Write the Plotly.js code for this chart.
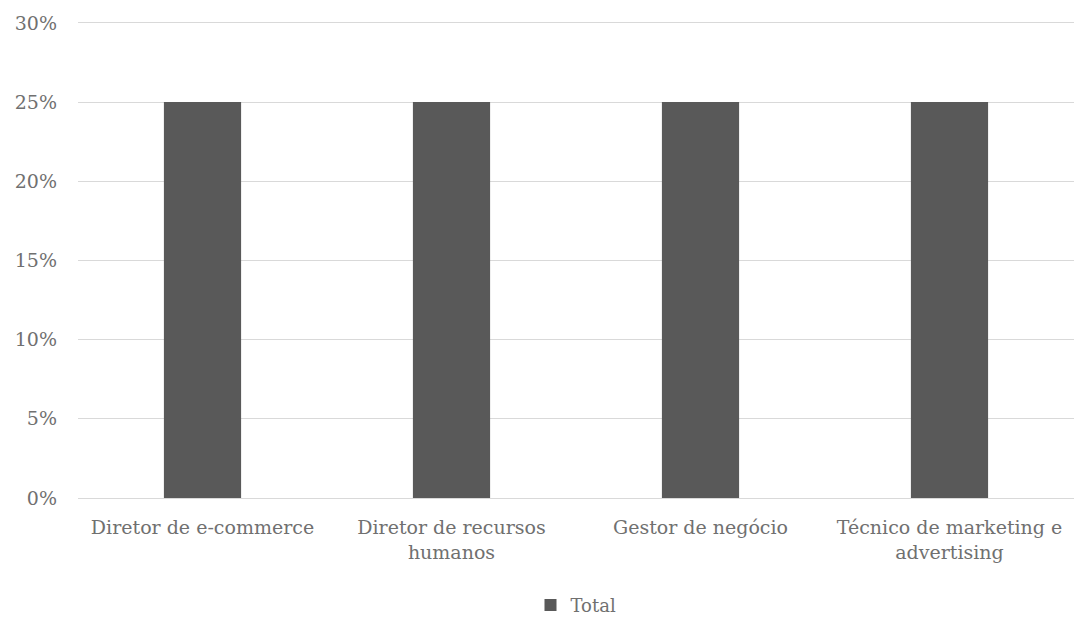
<!DOCTYPE html>
<html>
<head>
<meta charset="utf-8">
<script src="https://cdn.plot.ly/plotly-3.0.1.min.js"></script>
<style>html,body{margin:0;padding:0;background:#fff;}#chart{width:1077px;height:619px;}</style>
</head>
<body>
<div id="chart"></div>
<script>
const categories = ["Diretor de e-commerce", "Diretor de recursos<br>humanos", "Gestor de negócio", "Técnico de marketing e<br>advertising"];
const totalValues = [0.25, 0.25, 0.25, 0.25];
const yTickVals = [0, 0.05, 0.10, 0.15, 0.20, 0.25, 0.30];
const yTickText = ["0%", "5%", "10%", "15%", "20%", "25%", "30%"];
const seriesName = "Total";

const trace = {
  type: "bar",
  x: categories,
  y: totalValues,
  name: seriesName,
  marker: {color: "#595959"},
  hoverinfo: "none"
};

const layout = {
  width: 1077,
  height: 619,
  margin: {l: 78, r: 3, t: 15, b: 121},
  paper_bgcolor: "#ffffff",
  plot_bgcolor: "#ffffff",
  font: {family: "'DejaVu Serif', 'Liberation Serif', serif", color: "#707070", size: 19},
  bargap: 0.69,
  showlegend: true,
  legend: {
    orientation: "h",
    x: 0.5, xanchor: "center",
    yref: "container",
    y: 0.022, yanchor: "middle",
    font: {size: 18, color: "#707070"},
    itemwidth: 30
  },
  xaxis: {
    type: "category",
    automargin: false,
    showgrid: false,
    showline: true,
    linecolor: "#d9d9d9",
    linewidth: 1,
    ticks: "",
    ticklabelstandoff: 12,
    tickfont: {size: 19, color: "#707070"},
    fixedrange: true
  },
  yaxis: {
    automargin: false,
    range: [0, 0.305],
    tickvals: yTickVals,
    ticktext: yTickText,
    showgrid: true,
    gridcolor: "#d9d9d9",
    gridwidth: 1,
    zeroline: false,
    showline: false,
    ticks: "",
    ticklabelstandoff: 20,
    tickfont: {size: 19, color: "#707070"},
    fixedrange: true
  }
};

Plotly.newPlot("chart", [trace], layout, {displayModeBar: false, staticPlot: true});
</script>
</body>
</html>
